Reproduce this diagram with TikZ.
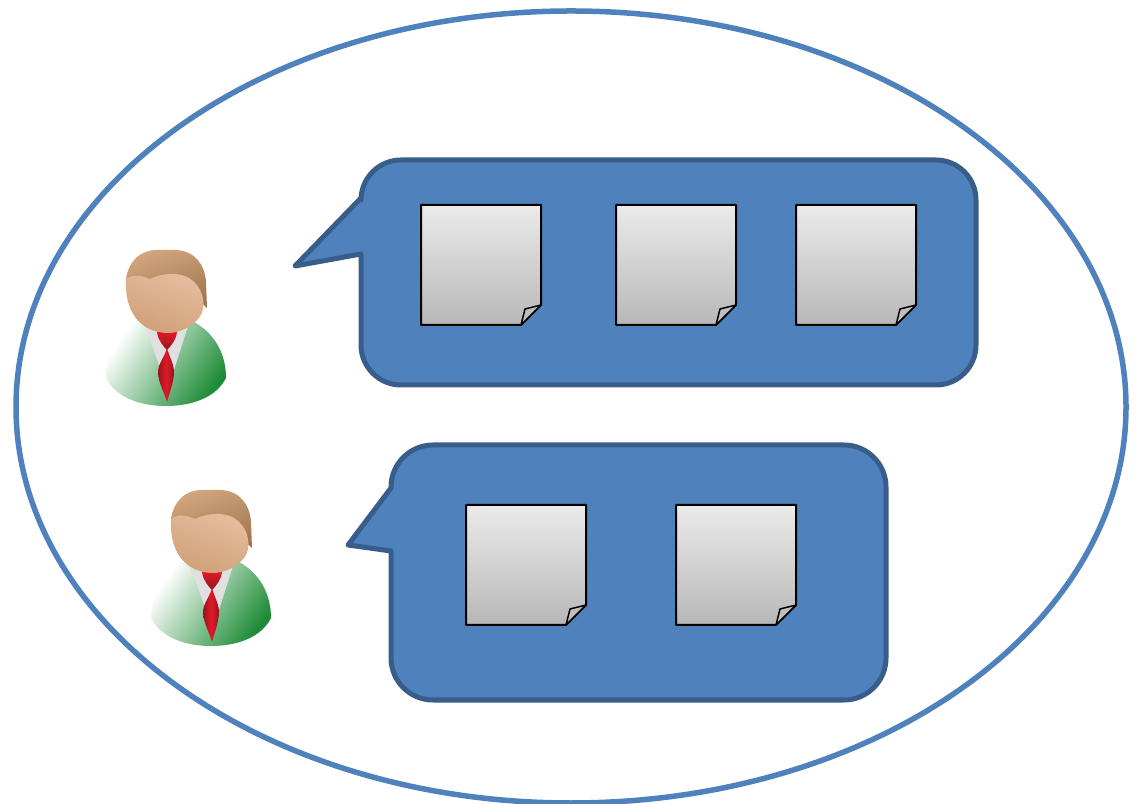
\documentclass[tikz,border=0pt]{standalone}
\usetikzlibrary{calc}
\definecolor{ringblue}{RGB}{79,129,189}
\definecolor{bubbledge}{RGB}{56,93,138}
\definecolor{suitgreen}{RGB}{30,140,55}
\definecolor{skin}{RGB}{230,190,160}
\definecolor{skindark}{RGB}{208,160,120}
\definecolor{hairtan}{RGB}{210,165,125}
\definecolor{hairdark}{RGB}{160,120,80}
\definecolor{tiered}{RGB}{225,25,40}
\definecolor{tiedark}{RGB}{150,20,30}
\tikzset{
  x=0.01cm,y=-0.01cm,
  ring/.style={draw=ringblue,line width=0.055cm},
  bubble/.style={draw=bubbledge,fill=ringblue,line width=0.05cm,line join=round},
  pics/sheet/.style={code={
    \draw[black,line width=0.02cm,line join=round,top color=black!8,bottom color=black!28]
      (0,0) -- (120,0) -- (120,100) -- (100,120) -- (0,120) -- cycle;
    \draw[black,line width=0.015cm,line join=round,fill=black!25]
      (120,100) -- (104,104) -- (100,120) -- cycle;
  }},
  pics/person/.style={code={
    % body
    \path[left color=white,right color=suitgreen,shading angle=55]
      (-60,50) .. controls (-60,25) and (-48,5) .. (-28,-6) -- (28,-6)
      .. controls (48,5) and (60,25) .. (60,50)
      .. controls (50,70) and (25,78) .. (0,78)
      .. controls (-25,78) and (-50,70) .. (-60,50) -- cycle;
    % collar
    \fill[black!12] (-21,-2) -- (-4,45) -- (7,45) -- (22,-2) -- cycle;
    % tie
    \path[left color=tiedark,right color=tiedark,middle color=tiered]
      (1,20) .. controls (3,28) and (8,36) .. (8,44)
      .. controls (8,54) and (3,66) .. (1,74)
      .. controls (-1,66) and (-8,54) .. (-8,44)
      .. controls (-8,36) and (-1,28) .. (1,20) -- cycle;
    \path[top color=tiered,bottom color=tiedark]
      (-9,4) -- (11,4) .. controls (10,12) and (5,18) .. (1,22)
      .. controls (-3,18) and (-8,12) .. (-9,4) -- cycle;
    % hair
    \path[left color=hairtan,right color=hairdark,shading angle=20]
      (-40,-49) .. controls (-37,-68) and (-25,-78) .. (-9,-78) -- (10,-78)
      .. controls (30,-77) and (39,-62) .. (40,-46) -- (41,-20) -- (30,-30) -- cycle;
    % face
    \path[left color=skin,right color=skindark,shading angle=-20]
      (-40,-49) .. controls (-33,-54) and (-26,-53) .. (-16,-49)
      .. controls (-6,-54) and (15,-58) .. (27,-47)
      .. controls (38,-38) and (41,-20) .. (33,-10)
      .. controls (25,0) and (12,5) .. (2,5)
      .. controls (-18,5) and (-42,-8) .. (-40,-49) -- cycle;
  }},
}
\begin{document}
\begin{tikzpicture}
  \useasboundingbox (0,0) rectangle (1137,804);
  \draw[ring] (571,407) ellipse [x radius=555,y radius=396];
  % speech bubbles
  \draw[bubble] (361,254) -- (295,266) -- (361,198) [rounded corners=0.4cm] -- (361,160) -- (976,160)
    -- (976,385) -- (361,385) [sharp corners] -- cycle;
  \draw[bubble] (391,551) -- (348,545) -- (391,488) [rounded corners=0.42cm] -- (391,445) -- (886,445)
    -- (886,700) -- (391,700) [sharp corners] -- cycle;
  \foreach \x/\y in {421/205,616/205,796/205,466/505,676/505}
    \pic at (\x,\y) {sheet};
  \foreach \x/\y in {166/328,211/568}
    \pic at (\x,\y) {person};
\end{tikzpicture}
\end{document}
